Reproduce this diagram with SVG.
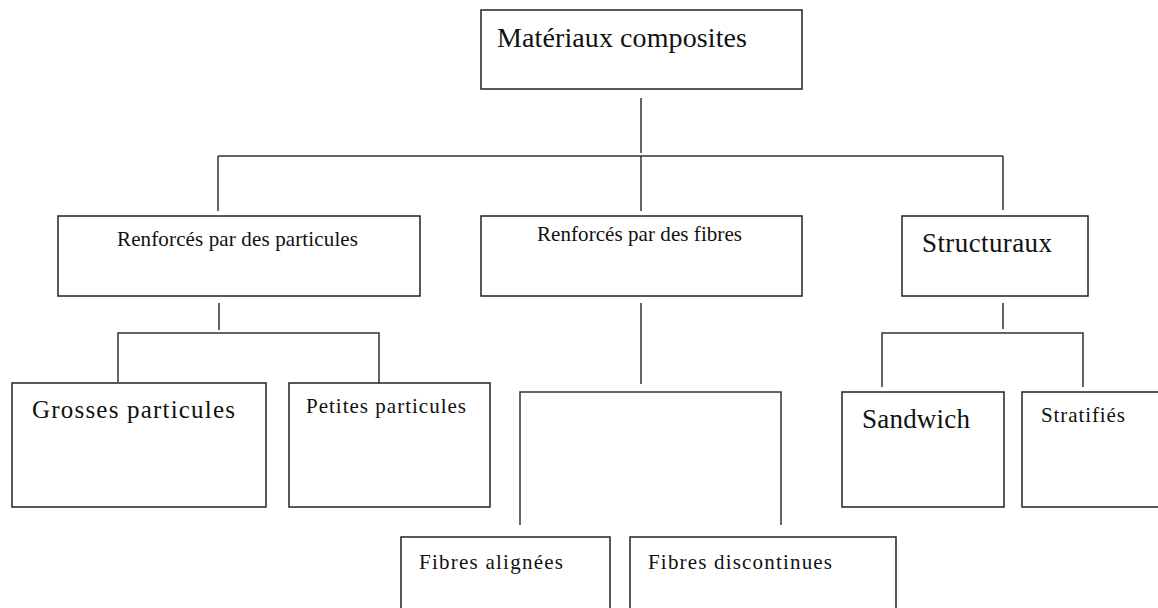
<svg xmlns="http://www.w3.org/2000/svg" width="1158" height="608" viewBox="0 0 1158 608">
<style>
.box{fill:#fff;stroke:#222;stroke-width:1.5}
.ln{stroke:#333;stroke-width:1.5;fill:none}
text{font-family:"Liberation Serif","DejaVu Serif",serif;fill:#111}
</style>
<rect width="1158" height="608" fill="#fff"/>
<g id="connectors">
<line class="ln" x1="641" y1="98" x2="641" y2="153"/>
<line class="ln" x1="218" y1="156" x2="1003" y2="156"/>
<line class="ln" x1="218" y1="156" x2="218" y2="211"/>
<line class="ln" x1="641" y1="156" x2="641" y2="211"/>
<line class="ln" x1="1003" y1="156" x2="1003" y2="210"/>
<line class="ln" x1="219" y1="303" x2="219" y2="330"/>
<polyline class="ln" points="118,382 118,333 379,333 379,387"/>
<line class="ln" x1="641" y1="303" x2="641" y2="384"/>
<polyline class="ln" points="520,525 520,392 781,392 781,525"/>
<line class="ln" x1="1003" y1="303" x2="1003" y2="329"/>
<polyline class="ln" points="882,387 882,333 1083,333 1083,387"/>
</g>
<g id="n-materiaux"><rect class="box" x="481" y="10" width="321" height="79"/><text x="497" y="47" font-size="28" textLength="250">Matériaux composites</text></g>
<g id="n-particules"><rect class="box" x="58" y="216" width="362" height="80"/><text x="117" y="246" font-size="21" textLength="241">Renforcés par des particules</text></g>
<g id="n-fibres"><rect class="box" x="481" y="216" width="321" height="80"/><text x="537" y="241" font-size="21" textLength="205">Renforcés par des fibres</text></g>
<g id="n-structuraux"><rect class="box" x="902" y="216" width="186" height="80"/><text x="922" y="252" font-size="27" textLength="130">Structuraux</text></g>
<g id="n-grosses"><rect class="box" x="12" y="383" width="254" height="124"/><text x="32" y="418" font-size="25" textLength="203">Grosses particules</text></g>
<g id="n-petites"><rect class="box" x="289" y="383" width="201" height="124"/><text x="306" y="413" font-size="21" textLength="160">Petites particules</text></g>
<g id="n-sandwich"><rect class="box" x="842" y="392" width="162" height="115"/><text x="862" y="428" font-size="27" textLength="108">Sandwich</text></g>
<g id="n-stratifies"><rect class="box" x="1022" y="392" width="150" height="115"/><text x="1041" y="422" font-size="21" textLength="84">Stratifiés</text></g>
<g id="n-alignees"><rect class="box" x="401" y="537" width="209" height="90"/><text x="419" y="569" font-size="21" textLength="144">Fibres alignées</text></g>
<g id="n-discontinues"><rect class="box" x="630" y="537" width="266" height="90"/><text x="648" y="569" font-size="21" textLength="184">Fibres discontinues</text></g>
</svg>
